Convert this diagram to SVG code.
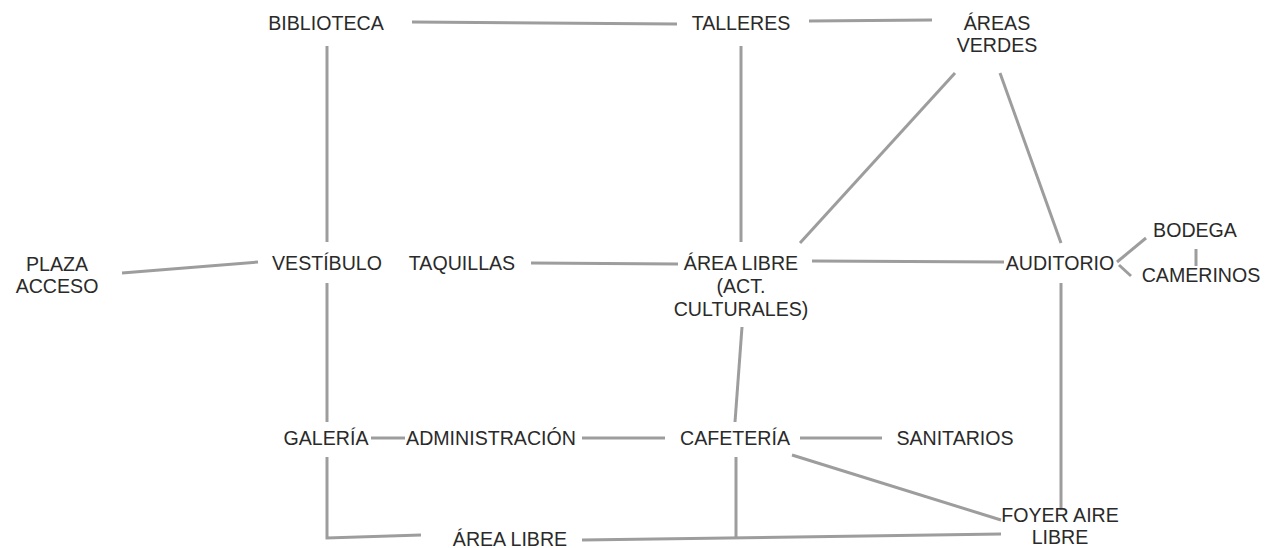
<svg xmlns="http://www.w3.org/2000/svg" width="1268" height="548" viewBox="0 0 1268 548">
<style>
text{font-family:"Liberation Sans",Arial,sans-serif;font-size:19.6px;fill:#2a2a2a;text-anchor:middle}
.c line,.c polyline{stroke:#9d9d9d;stroke-width:3;fill:none;stroke-linecap:butt}
</style>
<rect width="1268" height="548" fill="#fff"/>
<g class="c" id="connectors">
<line x1="412" y1="22" x2="677" y2="24"/>
<line x1="809" y1="21" x2="932" y2="20"/>
<line x1="327" y1="46" x2="327" y2="242"/>
<line x1="741" y1="46" x2="741" y2="242"/>
<line x1="955" y1="73" x2="800" y2="243"/>
<line x1="1000" y1="73" x2="1061" y2="243"/>
<line x1="122" y1="273" x2="258" y2="262"/>
<line x1="531" y1="263" x2="678" y2="264"/>
<line x1="812" y1="261" x2="1004" y2="262"/>
<line x1="1117" y1="262" x2="1146" y2="238"/>
<line x1="1119" y1="265" x2="1131" y2="276"/>
<line x1="1196" y1="249" x2="1196" y2="266"/>
<line x1="1061" y1="283" x2="1061" y2="510"/>
<line x1="742" y1="327" x2="735" y2="422"/>
<line x1="327" y1="283" x2="327" y2="422"/>
<line x1="371" y1="438" x2="405" y2="438"/>
<line x1="582" y1="438" x2="665" y2="438"/>
<line x1="800" y1="438" x2="882" y2="438"/>
<line x1="792" y1="455" x2="1001" y2="520"/>
<line x1="736" y1="457" x2="736" y2="537"/>
<polyline points="327,457 327,538 421,535"/>
<line x1="582" y1="540" x2="1001" y2="534"/>
</g>
<g id="biblioteca"><text x="326" y="30">BIBLIOTECA</text></g>
<g id="talleres"><text x="741" y="30">TALLERES</text></g>
<g id="areas-verdes"><text x="997" y="30">ÁREAS</text><text x="997" y="52">VERDES</text></g>
<g id="plaza-acceso"><text x="57" y="271">PLAZA</text><text x="57" y="293">ACCESO</text></g>
<g id="vestibulo"><text x="327" y="270">VESTÍBULO</text></g>
<g id="taquillas"><text x="462" y="270">TAQUILLAS</text></g>
<g id="area-libre-act"><text x="741" y="270">ÁREA LIBRE</text><text x="741" y="293">(ACT.</text><text x="741" y="316">CULTURALES)</text></g>
<g id="auditorio"><text x="1060" y="270">AUDITORIO</text></g>
<g id="bodega"><text x="1195" y="237">BODEGA</text></g>
<g id="camerinos"><text x="1201" y="282">CAMERINOS</text></g>
<g id="galeria"><text x="326" y="445">GALERÍA</text></g>
<g id="administracion"><text x="491" y="445">ADMINISTRACIÓN</text></g>
<g id="cafeteria"><text x="735" y="445">CAFETERÍA</text></g>
<g id="sanitarios"><text x="955" y="445">SANITARIOS</text></g>
<g id="foyer"><text x="1060" y="522">FOYER AIRE</text><text x="1060" y="544">LIBRE</text></g>
<g id="area-libre"><text x="510" y="546">ÁREA LIBRE</text></g>
</svg>
